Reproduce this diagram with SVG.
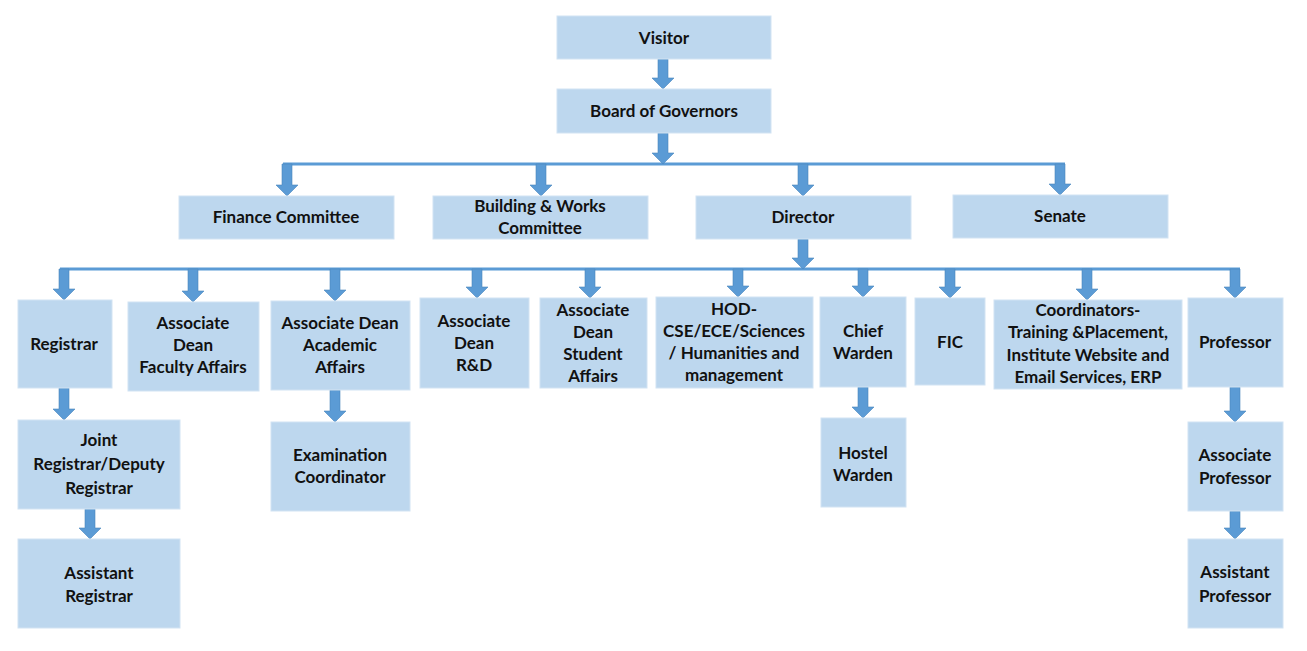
<svg xmlns="http://www.w3.org/2000/svg" width="1307" height="651" viewBox="0 0 1307 651">
<style>
.box{fill:#BDD7EE;stroke:#D2E3F3;stroke-width:1}
.t{font-family:Lato,"Open Sans","Liberation Sans",sans-serif;font-weight:700;font-size:17px;fill:#111;text-anchor:middle}
.ln{stroke:#5B9BD5;stroke-width:3;fill:none}
.ar{fill:#5B9BD5;stroke:#4A86BE;stroke-width:0.6}
</style>
<rect width="1307" height="651" fill="#fff"/>
<g id="connectors">
<path class="ln" d="M283 164H1065"/>
<path class="ln" d="M60 269H1240"/>
<path class="ar" d="M658 59h10v19h6l-11 11l-11-11h6z"/>
<path class="ar" d="M658 133h10v20h6l-11 11l-11-11h6z"/>
<path class="ar" d="M282 164h10v21h6l-11 11l-11-11h6z"/>
<path class="ar" d="M536 164h10v21h6l-11 11l-11-11h6z"/>
<path class="ar" d="M798 164h10v21h6l-11 11l-11-11h6z"/>
<path class="ar" d="M1055 164h10v20h6l-11 11l-11-11h6z"/>
<path class="ar" d="M798 239h10v19h6l-11 11l-11-11h6z"/>
<path class="ar" d="M59 269h10v20h6l-11 11l-11-11h6z"/>
<path class="ar" d="M188 269h10v22h6l-11 11l-11-11h6z"/>
<path class="ar" d="M330 269h10v21h6l-11 11l-11-11h6z"/>
<path class="ar" d="M472 269h10v18h6l-11 11l-11-11h6z"/>
<path class="ar" d="M585 269h10v18h6l-11 11l-11-11h6z"/>
<path class="ar" d="M733 269h10v17h6l-11 11l-11-11h6z"/>
<path class="ar" d="M858 269h10v17h6l-11 11l-11-11h6z"/>
<path class="ar" d="M945 269h10v18h6l-11 11l-11-11h6z"/>
<path class="ar" d="M1082 269h10v20h6l-11 11l-11-11h6z"/>
<path class="ar" d="M1230 269h10v18h6l-11 11l-11-11h6z"/>
<path class="ar" d="M59 388h10v21h6l-11 11l-11-11h6z"/>
<path class="ar" d="M85 509h10v19h6l-11 11l-11-11h6z"/>
<path class="ar" d="M330 390h10v21h6l-11 11l-11-11h6z"/>
<path class="ar" d="M858 387h10v20h6l-11 11l-11-11h6z"/>
<path class="ar" d="M1230 387h10v24h6l-11 11l-11-11h6z"/>
<path class="ar" d="M1230 511h10v17h6l-11 11l-11-11h6z"/>
</g>
<g id="visitor"><rect class="box" x="557" y="16" width="214" height="43"/><text class="t" x="664" y="44">Visitor</text></g>
<g id="board"><rect class="box" x="557" y="89" width="214" height="44"/><text class="t" x="664" y="117">Board of Governors</text></g>
<g id="finance"><rect class="box" x="179" y="196" width="215" height="43"/><text class="t" x="286" y="223">Finance Committee</text></g>
<g id="building"><rect class="box" x="433" y="196" width="215" height="43"/><text class="t" x="540" y="212">Building &amp; Works</text><text class="t" x="540" y="234">Committee</text></g>
<g id="director"><rect class="box" x="696" y="196" width="215" height="43"/><text class="t" x="803" y="223">Director</text></g>
<g id="senate"><rect class="box" x="953" y="195" width="215" height="43"/><text class="t" x="1060" y="222">Senate</text></g>
<g id="registrar"><rect class="box" x="18" y="300" width="94" height="88"/><text class="t" x="64" y="350">Registrar</text></g>
<g id="ad-fa"><rect class="box" x="128" y="302" width="131" height="89"/><text class="t" x="193" y="329">Associate</text><text class="t" x="193" y="351">Dean</text><text class="t" x="193" y="373">Faculty Affairs</text></g>
<g id="ad-aa"><rect class="box" x="271" y="301" width="139" height="89"/><text class="t" x="340" y="329">Associate Dean</text><text class="t" x="340" y="351">Academic</text><text class="t" x="340" y="373">Affairs</text></g>
<g id="ad-rd"><rect class="box" x="420" y="298" width="109" height="90"/><text class="t" x="474" y="327">Associate</text><text class="t" x="474" y="349">Dean</text><text class="t" x="474" y="371">R&amp;D</text></g>
<g id="ad-sa"><rect class="box" x="540" y="298" width="107" height="90"/><text class="t" x="593" y="316">Associate</text><text class="t" x="593" y="338">Dean</text><text class="t" x="593" y="360">Student</text><text class="t" x="593" y="382">Affairs</text></g>
<g id="hod"><rect class="box" x="656" y="297" width="157" height="91"/><text class="t" x="734" y="315">HOD-</text><text class="t" x="734" y="337">CSE/ECE/Sciences</text><text class="t" x="734" y="359">/ Humanities and</text><text class="t" x="734" y="381">management</text></g>
<g id="chief-warden"><rect class="box" x="820" y="297" width="86" height="90"/><text class="t" x="863" y="337">Chief</text><text class="t" x="863" y="359">Warden</text></g>
<g id="fic"><rect class="box" x="915" y="298" width="70" height="87"/><text class="t" x="950" y="348">FIC</text></g>
<g id="coordinators"><rect class="box" x="994" y="300" width="188" height="89"/><text class="t" x="1088" y="316">Coordinators-</text><text class="t" x="1088" y="338">Training &amp;Placement,</text><text class="t" x="1088" y="361">Institute Website and</text><text class="t" x="1088" y="383">Email Services, ERP</text></g>
<g id="professor"><rect class="box" x="1188" y="298" width="95" height="89"/><text class="t" x="1235" y="348">Professor</text></g>
<g id="joint-registrar"><rect class="box" x="18" y="420" width="162" height="89"/><text class="t" x="99" y="446">Joint</text><text class="t" x="99" y="470">Registrar/Deputy</text><text class="t" x="99" y="494">Registrar</text></g>
<g id="assistant-registrar"><rect class="box" x="18" y="539" width="162" height="89"/><text class="t" x="99" y="579">Assistant</text><text class="t" x="99" y="602">Registrar</text></g>
<g id="exam-coordinator"><rect class="box" x="271" y="422" width="139" height="89"/><text class="t" x="340" y="461">Examination</text><text class="t" x="340" y="483">Coordinator</text></g>
<g id="hostel-warden"><rect class="box" x="821" y="418" width="85" height="89"/><text class="t" x="863" y="459">Hostel</text><text class="t" x="863" y="481">Warden</text></g>
<g id="associate-professor"><rect class="box" x="1188" y="422" width="95" height="89"/><text class="t" x="1235" y="461">Associate</text><text class="t" x="1235" y="484">Professor</text></g>
<g id="assistant-professor"><rect class="box" x="1188" y="539" width="95" height="89"/><text class="t" x="1235" y="578">Assistant</text><text class="t" x="1235" y="602">Professor</text></g>
</svg>
